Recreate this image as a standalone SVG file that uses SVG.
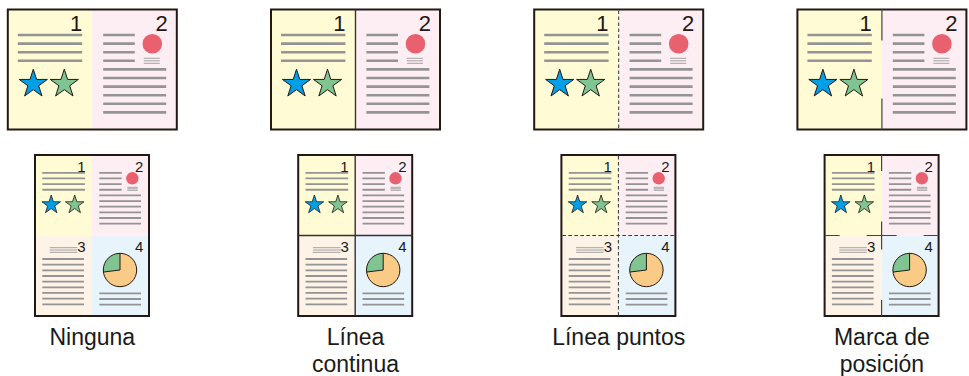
<svg xmlns="http://www.w3.org/2000/svg" xmlns:xlink="http://www.w3.org/1999/xlink" width="969" height="376" viewBox="0 0 969 376">
<defs>
<style>
.ln{stroke:#949494;stroke-width:2.6;fill:none}
.lns{stroke:#949494;stroke-width:1.8;fill:none}
.lnt{stroke:#9a9a9a;stroke-width:0.9;fill:none}
.bd{fill:none;stroke:#231815;stroke-width:2}
.st{stroke:#231815;stroke-width:1;stroke-linejoin:miter}
.sts{stroke:#231815;stroke-width:0.8;stroke-linejoin:miter}
.blue{fill:#00A0E9}
.green{fill:#80C491}
.red{fill:#E9606F}
.num{font-family:"Liberation Sans",Arial,sans-serif;font-size:22px;fill:#231815;text-anchor:end}
.nums{font-family:"Liberation Sans",Arial,sans-serif;font-size:15px;fill:#231815;text-anchor:end}
.lbl{font-family:"Liberation Sans",Arial,sans-serif;font-size:23px;fill:#1a1a1a;text-anchor:middle}
.div{stroke:#333;stroke-width:1.4;fill:none}
.dash{stroke:#333;stroke-width:1;stroke-dasharray:3.5 2.5;fill:none}
.mk{stroke:#444;stroke-width:1.2;fill:none}
</style>
<path id="starL" d="M0,-14.8 L3.32,-4.57 L14.08,-4.57 L5.38,1.75 L8.7,11.97 L0,5.65 L-8.7,11.97 L-5.38,1.75 L-14.08,-4.57 L-3.32,-4.57 Z"/>
<path id="starS" d="M0,-9.8 L2.2,-3.03 L9.32,-3.03 L3.56,1.16 L5.76,7.93 L0,3.74 L-5.76,7.93 L-3.56,1.16 L-9.32,-3.03 L-2.2,-3.03 Z"/>
<g id="spread">
  <rect x="0" y="0" width="84.5" height="120" fill="#FFFBD5"/>
  <rect x="84.5" y="0" width="84.5" height="120" fill="#FDEEF4"/>
  <path class="ln" d="M10 25.5H74.4M10 34.1H74.4M10 42.7H74.4M10 51.3H74.4"/>
  <use xlink:href="#starL" x="25.5" y="74.5" class="blue st"/>
  <use xlink:href="#starL" x="56.5" y="74.5" class="green st"/>
  <path class="ln" d="M95.4 25.5H127M95.4 34.1H127M95.4 42.7H127M95.4 51.3H127M95.4 59.9H158.4M95.4 68.5H158.4M95.4 77.1H158.4M95.4 85.7H158.4M95.4 94.3H158.4M95.4 102.9H158.4"/>
  <circle cx="144.5" cy="34.3" r="9.8" class="red"/>
  <path class="lnt" d="M136 48.8H152M136 51.3H152M136 53.8H152"/>
  <rect x="0" y="0" width="169" height="120" class="bd"/>
</g>
<g id="fourup">
  <rect x="0" y="0" width="57" height="80.5" fill="#FFFBD5"/>
  <rect x="57" y="0" width="57" height="80.5" fill="#FDEEF4"/>
  <rect x="0" y="80.5" width="57" height="80.5" fill="#FDF3E7"/>
  <rect x="57" y="80.5" width="57" height="80.5" fill="#E7F4FC"/>
  <path class="lns" d="M7.3 17.8H50M7.3 23.45H50M7.3 29.1H50M7.3 34.75H50"/>
  <use xlink:href="#starS" x="16.2" y="49.8" class="blue sts"/>
  <use xlink:href="#starS" x="39.7" y="49.8" class="green sts"/>
  <path class="lns" d="M64.3 17.8H86.7M64.3 23.45H86.7M64.3 29.1H86.7M64.3 34.75H86.7M64.3 40.4H106M64.3 46.05H106M64.3 51.7H106M64.3 57.35H106M64.3 63H106M64.3 68.65H106"/>
  <circle cx="97.3" cy="23.3" r="6.2" class="red"/>
  <path class="lnt" d="M92.3 32.3H102.7M92.3 33.8H102.7M92.3 35.3H102.7"/>
  <path class="lnt" d="M14.7 92.7H42.3M14.7 95H42.3M14.7 97.3H42.3"/>
  <path class="lns" d="M7.3 104H49M7.3 109.66H49M7.3 115.32H49M7.3 120.98H49M7.3 126.64H49M7.3 132.3H49M7.3 137.96H49M7.3 143.62H49M7.3 149.28H49"/>
  <path d="M85,115 L68.42,117.04 A16.7,16.7 0 1 0 85,98.3 Z" fill="#F9CB87"/>
  <path d="M85,115 L85,98.3 A16.7,16.7 0 0 0 68.42,117.04 Z" fill="#80C491"/>
  <path d="M85,98.3 L85,115 L68.42,117.04" fill="none" stroke="#231815" stroke-width="1"/>
  <circle cx="85" cy="115" r="16.7" fill="none" stroke="#231815" stroke-width="1"/>
  <path class="lns" d="M64.3 138.3H106M64.3 144H106M64.3 149.7H106"/>
  <rect x="0" y="0" width="114" height="161" class="bd"/>
</g>
</defs>

<g id="opt-ninguna">
  <g transform="translate(7.8 9.5)">
    <use xlink:href="#spread"/>
    <text class="num" x="74.4" y="21.5">1</text>
    <text class="num" x="160" y="21.5">2</text>
  </g>
  <g transform="translate(35 155)">
    <use xlink:href="#fourup"/>
    <text class="nums" x="50.5" y="16.5">1</text>
    <text class="nums" x="108.3" y="16.5">2</text>
    <text class="nums" x="50.7" y="96.7">3</text>
    <text class="nums" x="108.3" y="96.7">4</text>
  </g>
  <text class="lbl" x="92.3" y="345">Ninguna</text>
</g>

<g id="opt-linea-continua">
  <g transform="translate(271 9.5)">
    <use xlink:href="#spread"/>
    <path class="div" d="M84.5 0V120"/>
    <text class="num" x="74.4" y="21.5">1</text>
    <text class="num" x="160" y="21.5">2</text>
  </g>
  <g transform="translate(298.2 155)">
    <use xlink:href="#fourup"/>
    <path class="div" d="M57 0V161M0 80.5H114"/>
    <text class="nums" x="50.5" y="16.5">1</text>
    <text class="nums" x="108.3" y="16.5">2</text>
    <text class="nums" x="50.7" y="96.7">3</text>
    <text class="nums" x="108.3" y="96.7">4</text>
  </g>
  <text class="lbl" x="355.5" y="345">Línea</text>
  <text class="lbl" x="355.5" y="372">continua</text>
</g>

<g id="opt-linea-puntos">
  <g transform="translate(534.2 9.5)">
    <use xlink:href="#spread"/>
    <path class="dash" d="M84.5 1V119"/>
    <text class="num" x="74.4" y="21.5">1</text>
    <text class="num" x="160" y="21.5">2</text>
  </g>
  <g transform="translate(561.4 155)">
    <use xlink:href="#fourup"/>
    <path class="dash" d="M57 1V160M1 80.5H113"/>
    <text class="nums" x="50.5" y="16.5">1</text>
    <text class="nums" x="108.3" y="16.5">2</text>
    <text class="nums" x="50.7" y="96.7">3</text>
    <text class="nums" x="108.3" y="96.7">4</text>
  </g>
  <text class="lbl" x="618.7" y="345">Línea puntos</text>
</g>

<g id="opt-marca-posicion">
  <g transform="translate(797.4 9.5)">
    <use xlink:href="#spread"/>
    <path class="mk" d="M84.5 0V31M84.5 89V120"/>
    <text class="num" x="74.4" y="21.5">1</text>
    <text class="num" x="160" y="21.5">2</text>
  </g>
  <g transform="translate(824.6 155)">
    <use xlink:href="#fourup"/>
    <path class="mk" d="M57 0V16M57 145V161M57 66.5V94.5M0 80.5H15M99 80.5H114M42 80.5H72"/>
    <text class="nums" x="50.5" y="16.5">1</text>
    <text class="nums" x="108.3" y="16.5">2</text>
    <text class="nums" x="50.7" y="96.7">3</text>
    <text class="nums" x="108.3" y="96.7">4</text>
  </g>
  <text class="lbl" x="881.9" y="345">Marca de</text>
  <text class="lbl" x="881.9" y="372">posición</text>
</g>
</svg>
